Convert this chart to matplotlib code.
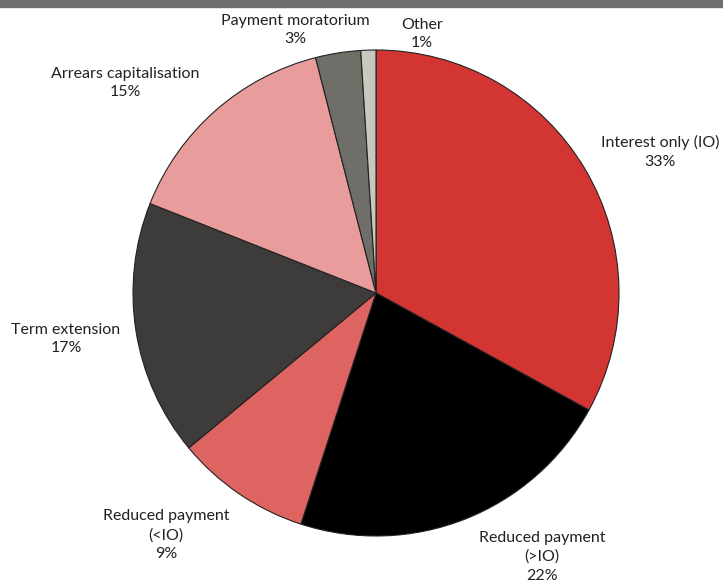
import matplotlib.pyplot as plt
from matplotlib.patches import Rectangle

# Loan forbearance types, share of total (%)
categories = ['Interest only (IO)', 'Reduced payment\n(>IO)', 'Reduced payment\n(<IO)',
              'Term extension', 'Arrears capitalisation', 'Payment moratorium', 'Other']
shares = [33, 22, 9, 17, 15, 3, 1]
colors = ['#D33532', '#000000', '#DE6462', '#3D3C3A', '#E89C9B', '#6F6E68', '#C8C8BD']

# label centres, in units of pie radius
label_pos = [(1.17, 0.58), (0.683, -1.086), (-0.864, -0.996), (-1.276, -0.19),
             (-1.033, 0.864), (-0.33, 1.082), (0.19, 1.066)]

plt.rcParams['font.family'] = ['Lato', 'DejaVu Sans']

fig = plt.figure(figsize=(7.23, 5.86), dpi=100)
ax = fig.add_axes([0, 0, 1, 1])
ax.pie(shares, colors=colors, startangle=90, counterclock=False,
       wedgeprops=dict(edgecolor='#222222', linewidth=0.8))

for name, val, (x, y) in zip(categories, shares, label_pos):
    ax.text(x, y, f'{name}\n{val}%', ha='center', va='center',
            fontsize=11.5, color='#222222', linespacing=1.4)

ax.set_xlim(-376 / 243, 347 / 243)
ax.set_ylim(-293 / 243, 293 / 243)
ax.set_aspect('auto')
ax.axis('off')

# grey band along the top
fig.patches.append(Rectangle((0, 579 / 586), 1, 7 / 586, transform=fig.transFigure,
                             color='#6E6E6E', zorder=5))

fig.savefig('out.png', dpi=100)
